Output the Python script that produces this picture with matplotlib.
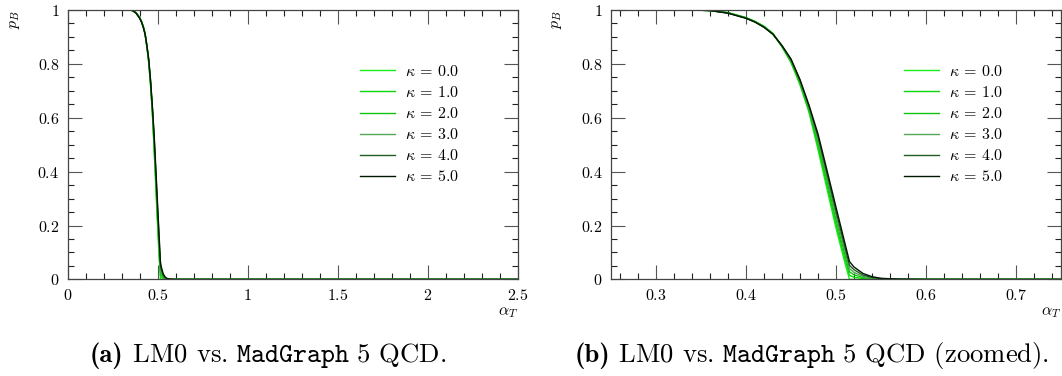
import matplotlib
matplotlib.use("Agg")
import matplotlib.pyplot as plt
from matplotlib.ticker import MultipleLocator, FuncFormatter

plt.rcParams['font.family'] = 'cmr10'
plt.rcParams['mathtext.fontset'] = 'cm'
plt.rcParams['axes.formatter.use_mathtext'] = True

# ---- data ----
alpha_T = [0.0, 0.25, 0.30, 0.34, 0.36, 0.38, 0.40, 0.41, 0.42, 0.43, 0.44, 0.45,
           0.46, 0.47, 0.48, 0.49, 0.50, 0.51, 0.515, 0.52, 0.53, 0.54, 0.55,
           0.57, 0.60, 0.75, 2.5]

kappas = [0.0, 1.0, 2.0, 3.0, 4.0, 5.0]

pB_k0 = [1, 1, 1, 1, 0.998, 0.990, 0.972, 0.958, 0.940, 0.913, 0.863, 0.805,
         0.722, 0.620, 0.482, 0.335, 0.190, 0.060, 0.0, 0.0, 0.0, 0.0, 0.0,
         0.0, 0.0, 0.0, 0.0]
pB_k1 = [1, 1, 1, 1, 0.998, 0.990, 0.971, 0.957, 0.939, 0.912, 0.864, 0.807,
         0.726, 0.625, 0.494, 0.350, 0.205, 0.075, 0.015, 0.008, 0.003, 0.001, 0.0,
         0.0, 0.0, 0.0, 0.0]
pB_k2 = [1, 1, 1, 1, 0.998, 0.990, 0.971, 0.957, 0.938, 0.911, 0.865, 0.810,
         0.730, 0.630, 0.506, 0.365, 0.222, 0.090, 0.028, 0.017, 0.007, 0.002, 0.001,
         0.0, 0.0, 0.0, 0.0]
pB_k3 = [1, 1, 1, 1, 0.998, 0.989, 0.970, 0.956, 0.937, 0.910, 0.866, 0.813,
         0.734, 0.636, 0.518, 0.378, 0.238, 0.104, 0.040, 0.026, 0.011, 0.004, 0.002,
         0.0, 0.0, 0.0, 0.0]
pB_k4 = [1, 1, 1, 1, 0.998, 0.989, 0.970, 0.956, 0.936, 0.910, 0.867, 0.816,
         0.738, 0.642, 0.530, 0.392, 0.253, 0.119, 0.052, 0.036, 0.016, 0.007, 0.003,
         0.001, 0.0, 0.0, 0.0]
pB_k5 = [1, 1, 1, 1, 0.998, 0.988, 0.969, 0.955, 0.936, 0.910, 0.868, 0.818,
         0.742, 0.647, 0.540, 0.405, 0.268, 0.133, 0.066, 0.046, 0.022, 0.010, 0.004,
         0.001, 0.0, 0.0, 0.0]
series = [pB_k0, pB_k1, pB_k2, pB_k3, pB_k4, pB_k5]
colors = ['#1aee1a', '#0bd80b', '#12c212', '#55a755', '#1e5e1e', '#001800']

xlims = [(0.0, 2.5), (0.25, 0.75)]
x_major = [0.5, 0.1]
x_minor = [0.1, 0.02]
caption_tags = ['(a)', '(b)']
caption_texts = [r' LM0 vs. $\mathtt{MadGraph\ 5}$ QCD.',
                 r' LM0 vs. $\mathtt{MadGraph\ 5}$ QCD (zoomed).']

W, H = 1062, 376
fig = plt.figure(figsize=(W / 100, H / 100), dpi=100)
renderer = fig.canvas.get_renderer()

ax_left_px = [67.7, 611.0]
ax_w_px = 450.0
ax_top_px, ax_bot_px = 10.0, 279.4
caption_cx = [268, 812]
ylabel_x = [15.5, 557]
legend_x_px = [360, 904]

fmt = FuncFormatter(lambda v, p: r'$%g$' % round(v, 6))

for i in range(2):
    ax = fig.add_axes([ax_left_px[i] / W, 1 - ax_bot_px / H,
                       ax_w_px / W, (ax_bot_px - ax_top_px) / H])
    for k, ys, c in zip(kappas, series, colors):
        ax.plot(alpha_T, ys, color=c, lw=1.0, label=r'$\kappa$ = %.1f' % k)
    ax.set_xlim(*xlims[i])
    ax.set_ylim(0, 1)
    ax.xaxis.set_major_locator(MultipleLocator(x_major[i]))
    ax.xaxis.set_minor_locator(MultipleLocator(x_minor[i]))
    ax.yaxis.set_major_locator(MultipleLocator(0.2))
    ax.yaxis.set_minor_locator(MultipleLocator(0.05))
    ax.xaxis.set_major_formatter(fmt)
    ax.yaxis.set_major_formatter(fmt)
    ax.tick_params(which='both', direction='in', top=True, right=True,
                   labelsize=11.5, width=0.8)
    ax.tick_params(which='major', length=10, color='#555555', pad=6)
    ax.tick_params(which='minor', length=4.3, color='#222222')
    for s in ax.spines.values():
        s.set_color('#444444')
        s.set_linewidth(0.9)
    ax.legend(loc='upper left',
              bbox_to_anchor=((legend_x_px[i] - ax_left_px[i]) / ax_w_px,
                              1 - (64 - ax_top_px) / (ax_bot_px - ax_top_px)),
              frameon=False, fontsize=11.5, handlelength=2.2,
              handletextpad=0.6, labelspacing=0.38, borderpad=0,
              borderaxespad=0)
    fig.text(ylabel_x[i] / W, 1 - 20 / H, r'$p_B$', rotation=90,
             ha='center', va='center', fontsize=11.5)
    fig.text((ax_left_px[i] + ax_w_px) / W, 1 - 313 / H, r'$\alpha_T$',
             ha='right', va='center', fontsize=11.5)

    # caption: bold tag + roman/typewriter text, centred as a whole
    t1 = fig.text(0, 1 - 355 / H, caption_tags[i], family='cmb10',
                  ha='left', va='baseline', fontsize=19.2)
    t2 = fig.text(0, 1 - 355 / H, caption_texts[i],
                  ha='left', va='baseline', fontsize=19.2)
    w1 = t1.get_window_extent(renderer).width
    w2 = t2.get_window_extent(renderer).width
    x0 = caption_cx[i] - (w1 + w2) / 2
    base_y = 1 - 362 / H
    t1.set_position((x0 / W, base_y))
    t2.set_position(((x0 + w1) / W, base_y))

fig.savefig('out.png', dpi=100)
